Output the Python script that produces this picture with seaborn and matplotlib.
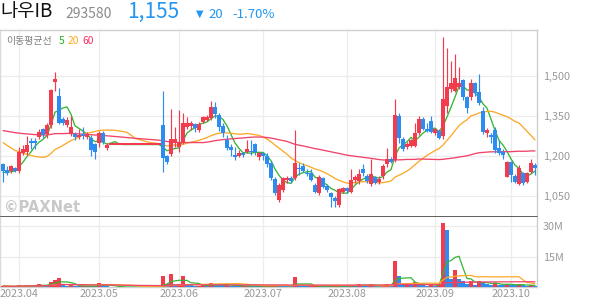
import numpy as np
import pandas as pd
import matplotlib
matplotlib.use("Agg")
import matplotlib.pyplot as plt
import seaborn as sns

# ---------------- data ----------------
stock_name = "나우IB"
stock_code = "293580"
last_price = "1,155"
change_txt = "20"
change_pct = "-1.70%"

month_labels = ["2023.04", "2023.05", "2023.06", "2023.07", "2023.08", "2023.09", "2023.10"]
month_start_idx = [4, 24, 44, 65, 86, 108, 127]

opens = [
    1170, 1146, 1144, 1156, 1144, 1212, 1216, 1256, 1256, 1270,
    1300, 1282, 1316, 1479, 1425, 1337, 1316, 1282, 1282, 1270,
    1282, 1272, 1268, 1245, 1247, 1287, 1229, 1243, 1243, 1243,
    1243, 1243, 1243, 1243, 1243, 1243, 1243, 1243, 1243, 1243,
    1316, 1200, 1207, 1250, 1233, 1247, 1310, 1313, 1319, 1297,
    1329, 1335, 1341, 1383, 1354, 1314, 1260, 1235, 1204, 1201,
    1210, 1214, 1220, 1244, 1198, 1210, 1201, 1172, 1112, 1035,
    1072, 1110, 1116, 1116, 1156, 1162, 1137, 1135, 1091, 1060,
    1116, 1087, 1060, 1041, 1016, 1066, 1079, 1066, 1110, 1106,
    1153, 1125, 1094, 1121, 1102, 1125, 1169, 1187, 1185, 1350,
    1265, 1235, 1237, 1237, 1287, 1337, 1302, 1331, 1285, 1294,
    1275, 1388, 1450, 1445, 1457, 1485, 1420, 1422, 1473, 1441,
    1370, 1287, 1279, 1297, 1229, 1215, 1122, 1179, 1125, 1095,
    1137, 1104, 1141, 1165]
highs = [
    1172, 1162, 1165, 1160, 1233, 1240, 1275, 1268, 1268, 1300,
    1306, 1325, 1452, 1516, 1454, 1345, 1345, 1350, 1290, 1300,
    1310, 1290, 1280, 1250, 1292, 1292, 1250, 1243, 1243, 1243,
    1243, 1243, 1243, 1243, 1243, 1243, 1243, 1243, 1243, 1243,
    1444, 1205, 1376, 1310, 1372, 1360, 1345, 1330, 1325, 1327,
    1350, 1352, 1405, 1402, 1360, 1325, 1279, 1245, 1235, 1222,
    1216, 1260, 1260, 1248, 1216, 1216, 1210, 1180, 1120, 1100,
    1120, 1125, 1125, 1297, 1175, 1172, 1150, 1150, 1100, 1130,
    1120, 1095, 1066, 1050, 1080, 1085, 1085, 1150, 1130, 1150,
    1170, 1131, 1187, 1125, 1125, 1170, 1231, 1195, 1415, 1360,
    1272, 1254, 1265, 1322, 1350, 1345, 1322, 1350, 1305, 1300,
    1645, 1604, 1555, 1582, 1535, 1490, 1425, 1490, 1477, 1507,
    1385, 1305, 1285, 1310, 1260, 1225, 1182, 1182, 1131, 1165,
    1140, 1140, 1190, 1172]
lows = [
    1104, 1128, 1135, 1140, 1135, 1205, 1204, 1228, 1228, 1262,
    1266, 1266, 1305, 1445, 1320, 1316, 1310, 1276, 1260, 1262,
    1262, 1265, 1200, 1189, 1232, 1245, 1222, 1243, 1243, 1243,
    1243, 1243, 1243, 1243, 1243, 1243, 1243, 1243, 1243, 1243,
    1141, 1170, 1200, 1235, 1216, 1244, 1300, 1298, 1290, 1290,
    1325, 1330, 1335, 1341, 1295, 1270, 1222, 1200, 1185, 1195,
    1198, 1210, 1205, 1204, 1185, 1185, 1160, 1110, 1055, 1029,
    1066, 1100, 1100, 1110, 1130, 1140, 1125, 1105, 1060, 1054,
    1080, 1066, 1009, 1010, 1010, 1060, 1062, 1060, 1100, 1095,
    1125, 1100, 1087, 1095, 1095, 1112, 1160, 1172, 1177, 1250,
    1219, 1225, 1235, 1235, 1280, 1298, 1290, 1285, 1280, 1265,
    1265, 1360, 1440, 1440, 1450, 1410, 1360, 1410, 1425, 1391,
    1282, 1270, 1250, 1210, 1205, 1190, 1120, 1104, 1098, 1090,
    1092, 1100, 1135, 1130]
closes = [
    1144, 1136, 1162, 1144, 1216, 1226, 1241, 1250, 1250, 1291,
    1280, 1316, 1447, 1488, 1325, 1325, 1335, 1310, 1270, 1278,
    1274, 1280, 1222, 1216, 1287, 1254, 1243, 1243, 1243, 1243,
    1243, 1243, 1243, 1243, 1243, 1243, 1243, 1243, 1243, 1243,
    1191, 1179, 1264, 1264, 1254, 1325, 1323, 1323, 1304, 1319,
    1345, 1347, 1385, 1356, 1310, 1285, 1229, 1222, 1198, 1210,
    1204, 1225, 1214, 1216, 1210, 1201, 1169, 1116, 1060, 1091,
    1116, 1116, 1105, 1172, 1150, 1145, 1132, 1110, 1066, 1122,
    1085, 1072, 1047, 1032, 1075, 1079, 1070, 1110, 1122, 1131,
    1135, 1106, 1131, 1100, 1115, 1162, 1190, 1177, 1352, 1269,
    1225, 1244, 1260, 1287, 1337, 1302, 1294, 1290, 1300, 1269,
    1412, 1460, 1473, 1491, 1473, 1420, 1379, 1473, 1435, 1400,
    1291, 1297, 1270, 1222, 1212, 1204, 1179, 1129, 1104, 1154,
    1097, 1135, 1175, 1155]
# volume in millions of shares
volumes = [
    0.5, 0.3, 0.3, 0.2, 1.0, 0.6, 0.8, 0.5, 0.4, 1.4,
    1.2, 0.8, 2.6, 3.4, 4.6, 1.3, 0.6, 1.0, 0.5, 0.4,
    0.5, 0.3, 0.6, 0.5, 2.0, 0.9, 0.5, 0.0, 0.0, 0.0,
    0.0, 0.0, 0.0, 0.0, 0.0, 0.0, 0.0, 0.0, 0.0, 0.0,
    5.6, 1.5, 6.6, 1.3, 1.5, 5.6, 1.2, 0.8, 0.6, 0.7,
    0.8, 0.6, 1.8, 1.2, 0.9, 0.8, 1.0, 0.7, 0.6, 0.4,
    0.4, 0.7, 0.6, 0.5, 0.4, 0.4, 0.6, 0.8, 0.9, 0.8,
    0.6, 0.4, 0.3, 5.0, 1.2, 0.6, 0.4, 0.4, 0.5, 0.6,
    0.4, 0.3, 0.4, 0.4, 0.8, 0.5, 0.4, 1.0, 0.6, 1.3,
    0.8, 0.5, 1.3, 0.6, 0.4, 0.9, 1.3, 0.6, 13.0, 5.4,
    1.5, 2.0, 1.0, 2.3, 1.8, 1.0, 0.6, 0.9, 0.7, 0.8,
    31.6, 28.0, 4.0, 8.5, 3.7, 3.0, 1.7, 3.0, 1.0, 3.0,
    2.5, 1.4, 1.0, 2.0, 1.2, 1.0, 1.4, 1.2, 0.8, 1.3,
    0.9, 0.6, 0.9, 0.5]
# estimated closes before the visible window (needed for the moving averages)
prior_closes = [
    1290, 1300, 1310, 1325, 1335, 1320, 1315, 1330, 1340, 1325,
    1310, 1305, 1320, 1330, 1315, 1300, 1310, 1325, 1335, 1320,
    1315, 1305, 1300, 1310, 1320, 1330, 1325, 1315, 1310, 1320,
    1330, 1335, 1325, 1315, 1305, 1310, 1320, 1325, 1315, 1320,
    1340, 1350, 1335, 1325, 1330, 1320, 1335, 1330, 1325, 1310,
    1250, 1220, 1195, 1180, 1160,
    1150, 1140, 1135, 1130]

price_ticks = [1050, 1200, 1350, 1500]
volume_ticks = [15, 30]
ma_windows = [5, 20, 60]

# ---------------- styles ----------------
RED = "#f23b4c"
BLUE = "#2d8cf0"
MA_COLORS = {5: "#35b535", 20: "#fca92a", 60: "#f0436a"}
GRID = "#ececec"
LABEL = "#999999"

sns.set_theme(style="white")
plt.rcParams["font.family"] = ["Noto Sans CJK KR", "DejaVu Sans"]

W, H = 594, 304
fig = plt.figure(figsize=(W / 100, H / 100), dpi=100)
fig.patch.set_facecolor("white")

def rect(x0, y0, x1, y1):
    return [x0 / W, 1 - y1 / H, (x1 - x0) / W, (y1 - y0) / H]

ax_p = fig.add_axes(rect(0, 30, 537, 217))
ax_v = fig.add_axes(rect(0, 217, 537, 287))

n = len(closes)
idx = np.arange(n)
df = pd.DataFrame({"idx": idx, "open": opens, "high": highs, "low": lows,
                   "close": closes, "volume": volumes})

full_close = pd.Series(prior_closes + closes, dtype=float)
for w in ma_windows:
    df[f"ma{w}"] = full_close.rolling(w, min_periods=1).mean().iloc[len(prior_closes):].values
    df[f"vma{w}"] = df["volume"].rolling(w, min_periods=1).mean()

up = df["close"] >= df["open"]
cand_col = np.where(up, RED, BLUE)
vol_up = df["volume"].diff().fillna(1) >= 0
vol_col = np.where(vol_up, RED, BLUE)

# ---------------- price panel ----------------
for w in ma_windows:
    sns.lineplot(data=df, x="idx", y=f"ma{w}", ax=ax_p, color=MA_COLORS[w],
                 linewidth=0.95, legend=False, zorder=2)

ax_p.vlines(df["idx"], df["low"], df["high"], colors=cand_col, linewidth=0.85, zorder=3)
body_lo = np.minimum(df["open"], df["close"])
body_h = np.maximum(np.abs(df["close"] - df["open"]), 5)
ax_p.bar(df["idx"], body_h, bottom=body_lo, width=0.78, color=cand_col,
         linewidth=0, zorder=4)

ax_p.set_xlim(-0.75, 133.5)
ax_p.set_ylim(971.25, 1672.5)
ax_p.set_xlabel("")
ax_p.set_ylabel("")
ax_p.set_xticks(month_start_idx)
ax_p.tick_params(axis="x", length=0, labelbottom=False)
ax_p.yaxis.tick_right()
ax_p.set_yticks(price_ticks)
ax_p.set_yticklabels([f"{t:,}" for t in price_ticks])
ax_p.tick_params(axis="y", length=0, pad=4, labelsize=7.8, labelcolor=LABEL)
ax_p.grid(True, color=GRID, linewidth=0.9)
ax_p.set_axisbelow(True)
for s, c in [("top", "#d0d0d0"), ("left", "#dadada"), ("right", "#cfcfcf"), ("bottom", "#333333")]:
    ax_p.spines[s].set_visible(True)
    ax_p.spines[s].set_color(c)
    ax_p.spines[s].set_linewidth(1.0 if s != "bottom" else 1.1)

# ---------------- volume panel ----------------
ax_v.bar(df["idx"], df["volume"], width=0.78, color=vol_col, linewidth=0, zorder=3)
for w in ma_windows:
    sns.lineplot(data=df, x="idx", y=f"vma{w}", ax=ax_v, color=MA_COLORS[w],
                 linewidth=0.9, legend=False, zorder=4)
ax_v.set_xlim(-0.75, 133.5)
ax_v.set_ylim(0, 34.5)
ax_v.set_xlabel("")
ax_v.set_ylabel("")
ax_v.set_xticks(month_start_idx)
ax_v.set_xticklabels(month_labels)
ax_v.tick_params(axis="x", length=0, pad=1.5, labelsize=7.8, labelcolor=LABEL)
ax_v.yaxis.tick_right()
ax_v.set_yticks(volume_ticks)
ax_v.set_yticklabels([f"{t}M" for t in volume_ticks])
ax_v.tick_params(axis="y", length=0, pad=4, labelsize=7.8, labelcolor=LABEL)
ax_v.grid(True, color=GRID, linewidth=0.9)
ax_v.set_axisbelow(True)
ax_v.spines["top"].set_visible(False)
for s, c in [("left", "#dadada"), ("right", "#cfcfcf"), ("bottom", "#d0d0d0")]:
    ax_v.spines[s].set_visible(True)
    ax_v.spines[s].set_color(c)
    ax_v.spines[s].set_linewidth(1.0)

# ---------------- header and annotations ----------------
def fx(px):
    return px / W

def fy(py):
    return 1 - py / H

fig.text(fx(0), fy(17.5), stock_name, fontsize=13.5, color="#111111", va="baseline", ha="left")
fig.text(fx(65), fy(17.5), stock_code, fontsize=10, color="#8a8a8a", va="baseline", ha="left")
fig.text(fx(127), fy(17.5), last_price, fontsize=15, color="#2196f3", va="baseline", ha="left")
fig.text(fx(196), fy(16.5), "▼", fontsize=7, color="#2196f3", va="baseline", ha="left",
         family=["DejaVu Sans"])
fig.text(fx(208), fy(17.5), change_txt, fontsize=9.5, color="#2196f3", va="baseline", ha="left")
fig.text(fx(232), fy(17.5), change_pct, fontsize=9.5, color="#2196f3", va="baseline", ha="left")

fig.text(fx(6), fy(41), "이동평균선", fontsize=7.2, color="#808080", va="center", ha="left")
fig.text(fx(59), fy(41), "5", fontsize=7.4, color="#1fb21f", va="center", ha="left")
fig.text(fx(67.5), fy(41), "20", fontsize=7.4, color="#ffa726", va="center", ha="left")
fig.text(fx(82.5), fy(41), "60", fontsize=7.4, color="#ff2a5f", va="center", ha="left")

fig.text(fx(4), fy(208), "©PAXNet", fontsize=10.5, color="#c9c9c9", fontweight="bold",
         va="center", ha="left", family=["DejaVu Sans"])

fig.savefig("out.png", dpi=100, facecolor="white")
